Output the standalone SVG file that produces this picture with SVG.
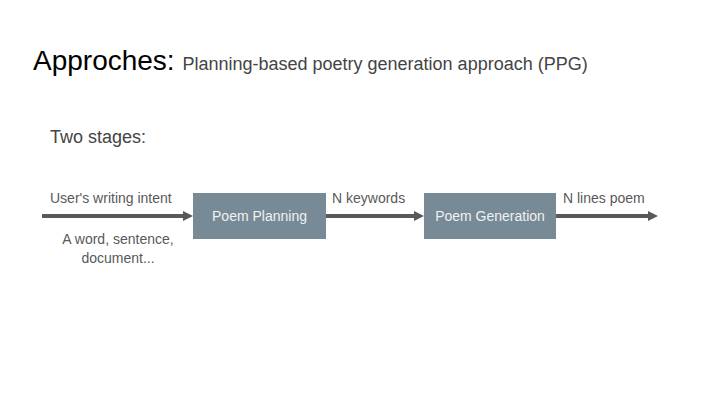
<svg xmlns="http://www.w3.org/2000/svg" width="720" height="405" viewBox="0 0 720 405">
<style>
text{font-family:"Liberation Sans",Arial,sans-serif}
.lbl{font-size:14px;fill:#595959}
.box{fill:#778a96}
.bt{font-size:14px;fill:#eef1f3;text-anchor:middle}
.conn{stroke:#595959;stroke-width:4;fill:none}
</style>
<defs>
<marker id="ah" markerWidth="12" markerHeight="12" refX="5" refY="5" orient="auto" markerUnits="userSpaceOnUse">
<path d="M0,0 L10,5 L0,10 z" fill="#595959"/>
</marker>
</defs>
<rect width="720" height="405" fill="#ffffff"/>
<text x="33" y="70" font-size="28" fill="#000">Approches: <tspan font-size="18" fill="#444">Planning-based poetry generation approach (PPG)</tspan></text>
<text x="50" y="143" font-size="18" fill="#444">Two stages:</text>
<g id="connectors">
<line class="conn" x1="42" y1="216" x2="188" y2="216" marker-end="url(#ah)"/>
<line class="conn" x1="326" y1="216" x2="419" y2="216" marker-end="url(#ah)"/>
<line class="conn" x1="556" y1="216" x2="653" y2="216" marker-end="url(#ah)"/>
</g>
<g id="planning">
<rect class="box" x="193" y="193" width="133" height="46"/>
<text class="bt" x="259.5" y="221">Poem Planning</text>
</g>
<g id="generation">
<rect class="box" x="424" y="193" width="132" height="46"/>
<text class="bt" x="490" y="221">Poem Generation</text>
</g>
<g id="labels">
<text class="lbl" x="50" y="203">User's writing intent</text>
<text class="lbl" x="118" y="244" text-anchor="middle">A word, sentence,</text>
<text class="lbl" x="118" y="263" text-anchor="middle">document...</text>
<text class="lbl" x="332" y="203">N keywords</text>
<text class="lbl" x="563" y="203">N lines poem</text>
</g>
</svg>
